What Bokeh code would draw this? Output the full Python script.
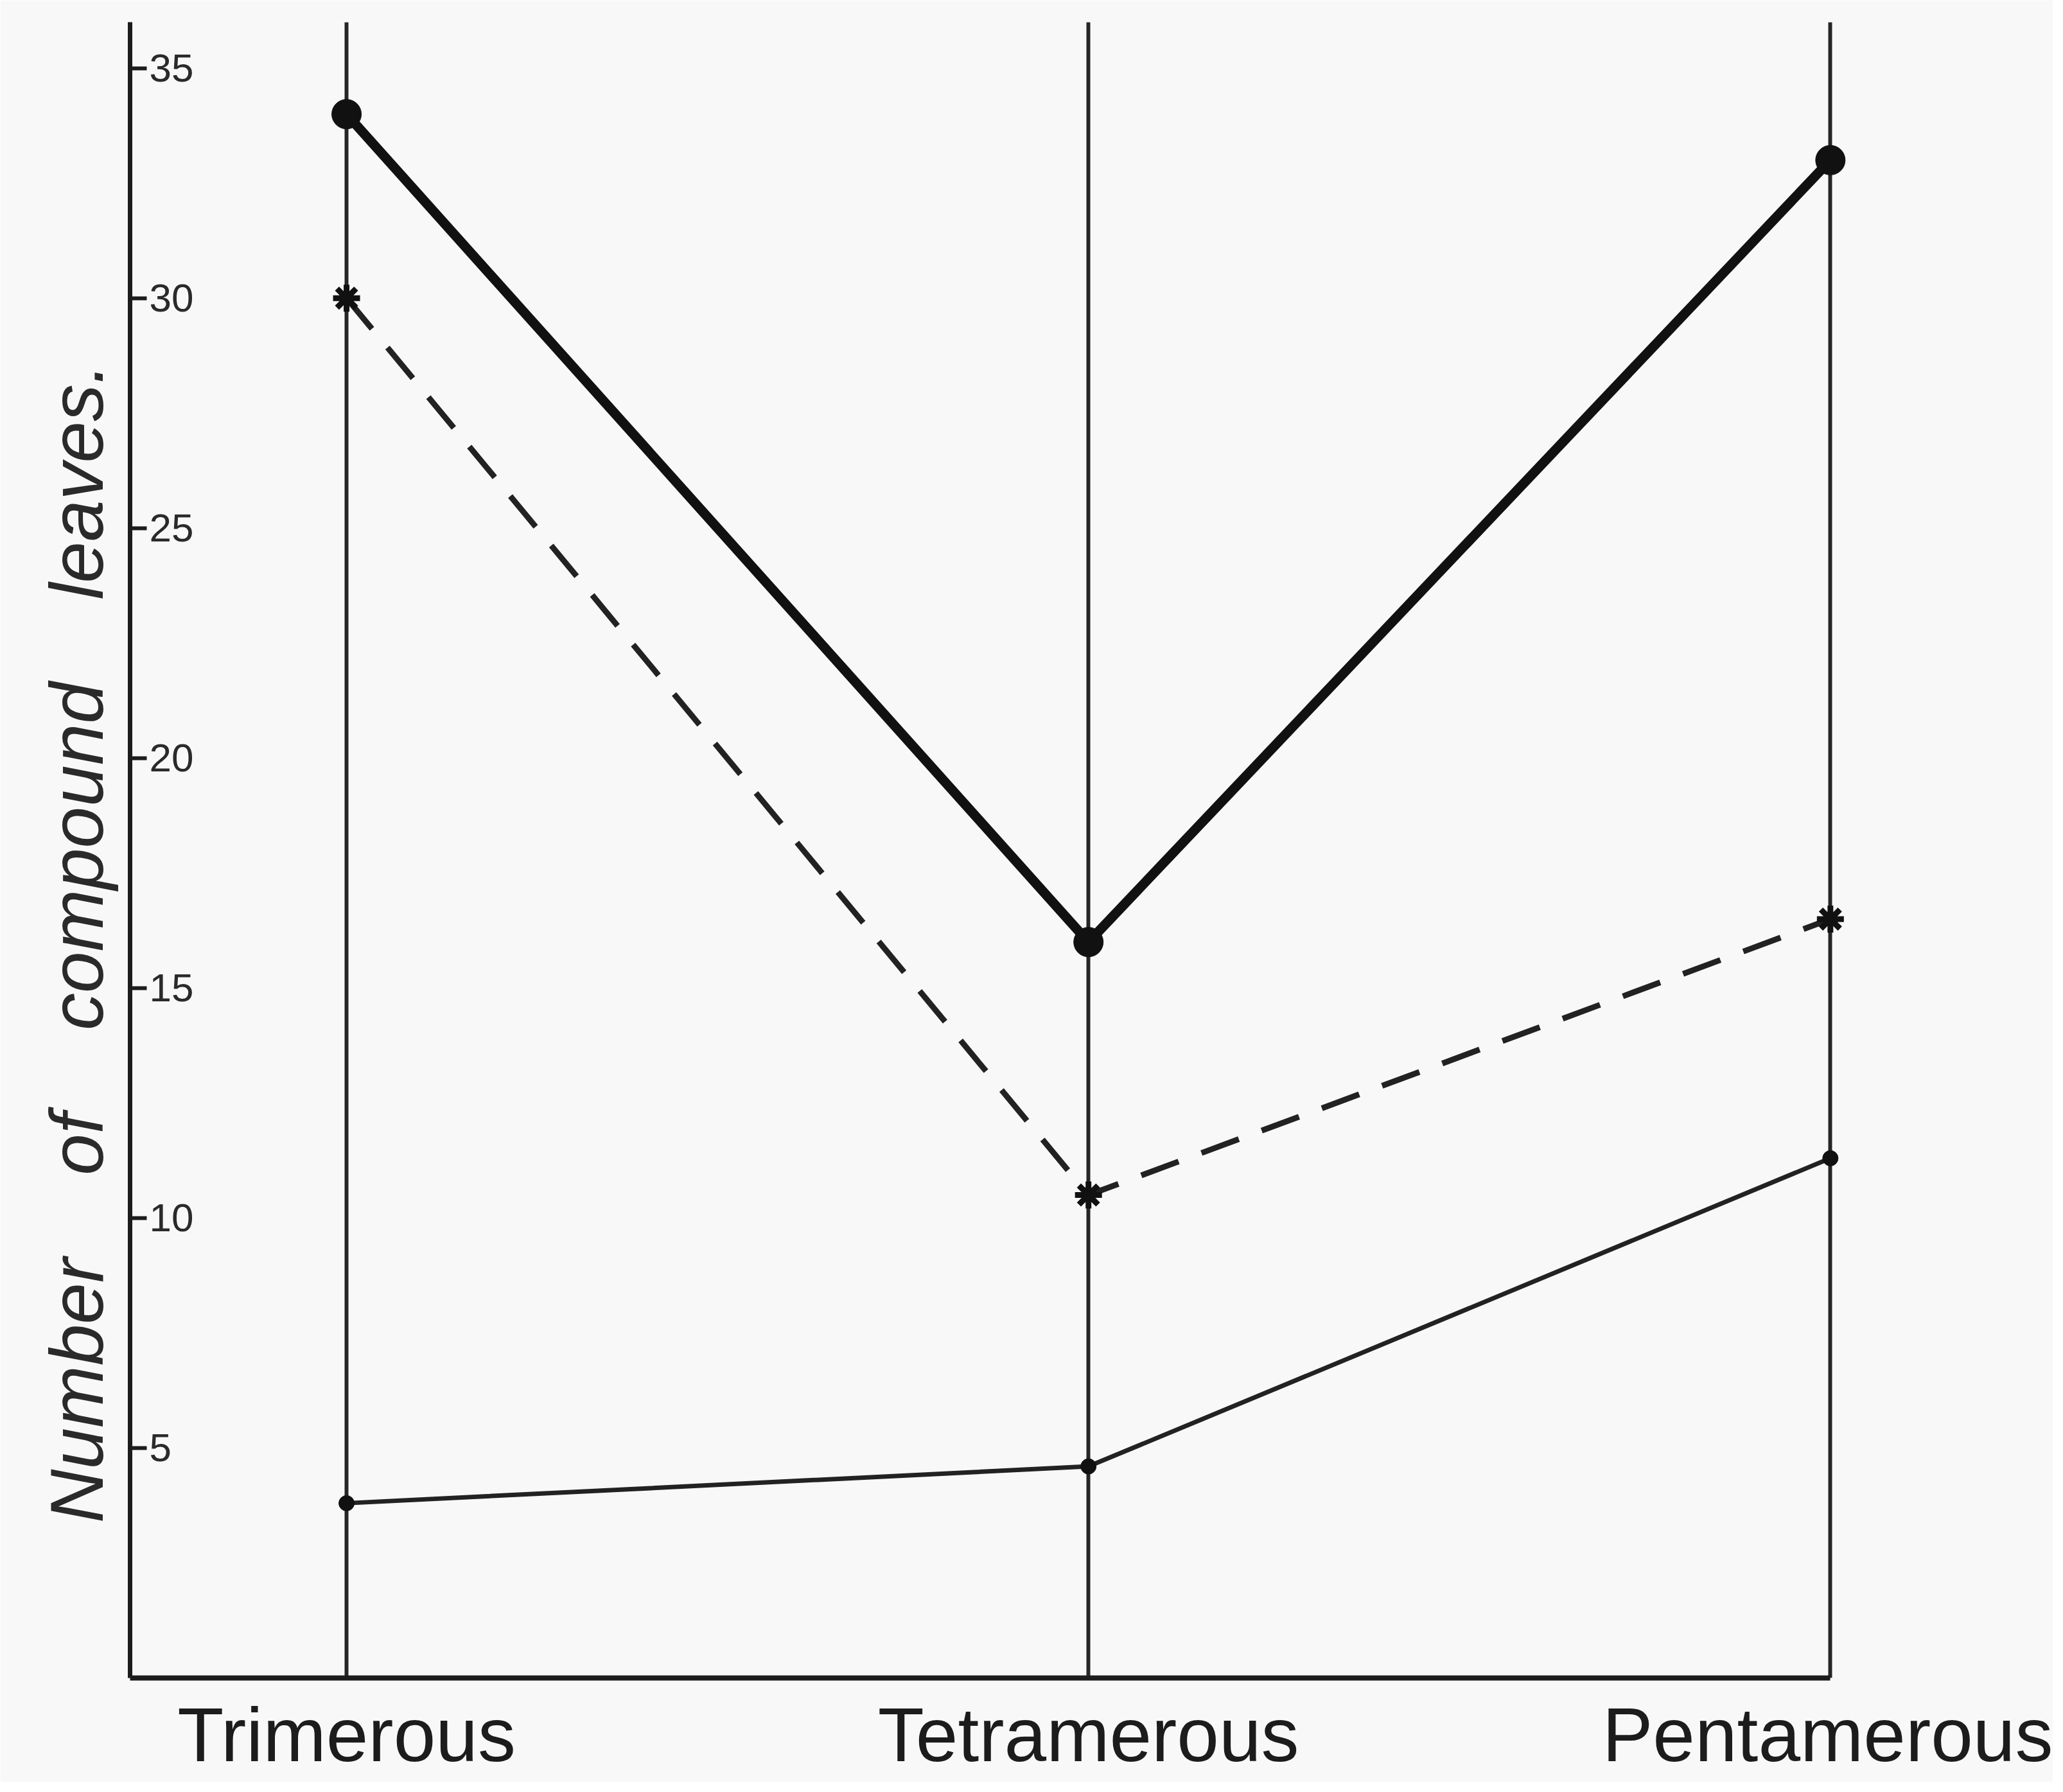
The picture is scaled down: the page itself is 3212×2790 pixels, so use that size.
from bokeh.plotting import figure
from bokeh.models import FixedTicker, Range1d
from bokeh.embed import file_html
from bokeh.resources import INLINE
from bokeh.core.properties import value

# ---- data ----
categories = ["Trimerous", "Tetramerous", "Pentamerous"]
cat_pos = [1, 2, 3]
series_thick = [34, 16, 33]        # heavy solid line, filled circles
series_dashed = [30, 10.5, 16.5]   # dashed line, star marks
series_thin = [3.8, 4.6, 11.3]     # thin solid line, small dots
y_ticks = [5, 10, 15, 20, 25, 30, 35]
y_tick_labels = ["5", "10", "15", "20", "25", "30", "35"]
y_title = ("Number\u00a0\u00a0\u00a0\u00a0of\u00a0\u00a0\u00a0\u00a0compound\u00a0\u00a0\u00a0\u00a0leaves."
           + "\u00a0" * 9)

X_START, X_END = 0.7082, 3.03
Y_START, Y_END = 0, 36

INK = "#1c1c1c"
PAPER = "#f8f8f8"

p = figure(width=3196, height=2774,
           x_range=Range1d(X_START, X_END), y_range=Range1d(Y_START, Y_END),
           output_backend="svg", toolbar_location=None,
           min_border_left=202, min_border_right=312,
           min_border_top=34, min_border_bottom=162)
p.background_fill_color = PAPER
p.border_fill_color = PAPER
p.outline_line_color = None

# vertical category lines
p.xgrid.ticker = FixedTicker(ticks=cat_pos)
p.xgrid.grid_line_color = "#262626"
p.xgrid.grid_line_width = 6
p.ygrid.visible = False

# x axis
xa = p.xaxis[0]
xa.ticker = FixedTicker(ticks=cat_pos)
xa.major_label_overrides = {c: name for c, name in zip(cat_pos, categories)}
xa.bounds = (X_START, 3)
xa.axis_line_width = 8
xa.axis_line_color = INK
xa.major_tick_out = 0
xa.major_tick_in = 0
xa.minor_tick_out = 0
xa.minor_tick_in = 0
xa.major_label_standoff = 22
xa.major_label_text_font = "Liberation Sans"
xa.major_label_text_font_size = "118px"
xa.major_label_text_color = INK

# y axis
ya = p.yaxis[0]
ya.ticker = FixedTicker(ticks=y_ticks)
ya.major_label_overrides = {t: "" for t in y_ticks}
ya.bounds = (Y_START, Y_END)
ya.axis_line_width = 7
ya.axis_line_color = INK
ya.major_tick_in = 26
ya.major_tick_out = 0
ya.major_tick_line_width = 6
ya.major_tick_line_color = INK
ya.minor_tick_in = 0
ya.minor_tick_out = 0
ya.major_label_standoff = 0
ya.axis_label = y_title
ya.axis_label_text_font = "Liberation Sans"
ya.axis_label_text_font_style = "italic"
ya.axis_label_text_font_size = "116px"
ya.axis_label_text_color = "#2a2a2a"
ya.axis_label_standoff = 18

# y tick labels drawn on the inner side of the axis
p.text(x=[X_START] * len(y_ticks), y=y_ticks, text=y_tick_labels,
       x_offset=30, text_baseline="middle", text_align="left",
       text_font=value("Liberation Sans"), text_font_size="62px",
       text_color="#2a2a2a")

# series
p.line(cat_pos, series_thick, line_width=15, line_color="#111111", line_join="round")
p.scatter(cat_pos, series_thick, marker="circle", size=46, fill_color="#111111", line_color="#111111")

p.line(cat_pos, series_dashed, line_width=9, line_color="#222222", line_dash="62 38")
p.scatter(cat_pos, series_dashed, marker="asterisk", size=42, line_width=9, line_color="#111111")

p.line(cat_pos, series_thin, line_width=7, line_color="#222222")
p.scatter(cat_pos, series_thin, marker="circle", size=24, fill_color="#111111", line_color="#111111")

open("out.html", "w").write(file_html(p, INLINE))
